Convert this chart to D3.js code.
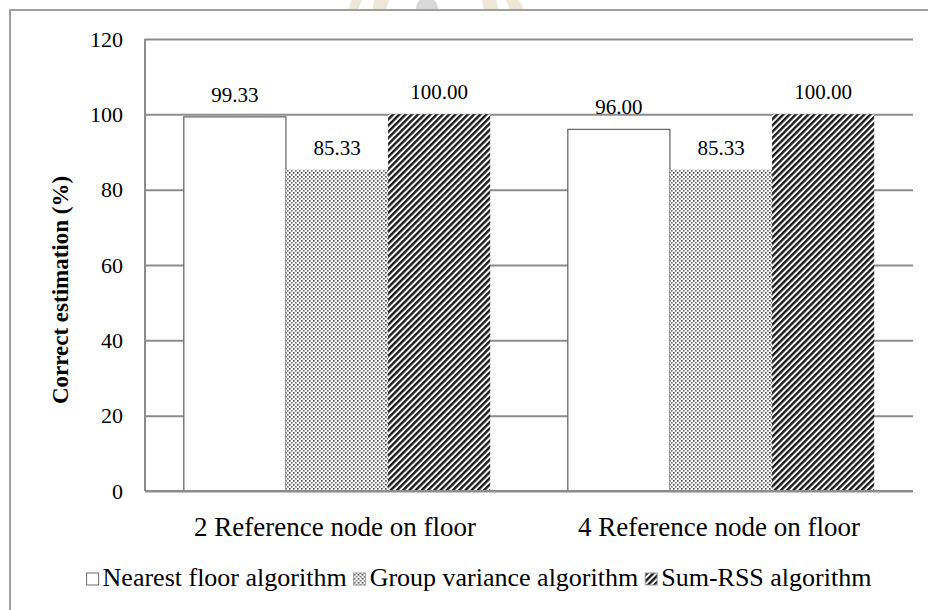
<!DOCTYPE html>
<html lang="en">
<head>
  <meta charset="UTF-8">
  <title>Correct estimation</title>
  <style>
    body { margin: 0; background: #fff; }
    svg { display: block; }
    svg text { font-family: "Liberation Serif", "Times New Roman", serif; fill: #000; }
    .grid line { stroke: #8c8c8c; stroke-width: 2; }
    .grid text { font-size: 22px; }
    .cat { font-size: 27px; }
    .lbl { font-size: 21px; }
    .legend text { font-size: 26px; }
  </style>
</head>
<body>
  <div id="chart"></div>
  <script src="https://d3js.org/d3.v7.min.js"></script>
  <script>
    const categories = ['2 Reference node on floor', '4 Reference node on floor'];
    const series = ['Nearest floor algorithm', 'Group variance algorithm', 'Sum-RSS algorithm'];
    const nearest = [99.33, 96.00];
    const group = [85.33, 85.33];
    const sumRss = [100.00, 100.00];
    const yTicks = [0, 20, 40, 60, 80, 100, 120];

    (function () {
      const width = 928, height = 610;
      const m = { left: 145, right: 15, top: 39, bottom: 119 };
      const values = [nearest, group, sumRss];
      const fills = ['#fff', 'url(#dots)', 'url(#stripes)'];

      const svg = d3.select('#chart').append('svg')
        .attr('width', width).attr('height', height);

      const defs = svg.append('defs');
      const dots = defs.append('pattern').attr('id', 'dots')
        .attr('patternUnits', 'userSpaceOnUse').attr('width', 4).attr('height', 4);
      dots.append('rect').attr('width', 4).attr('height', 4).attr('fill', '#fff');
      dots.append('rect').attr('x', 0).attr('y', 0).attr('width', 1.7).attr('height', 1.7).attr('fill', '#555');
      dots.append('rect').attr('x', 2).attr('y', 2).attr('width', 1.7).attr('height', 1.7).attr('fill', '#777');

      const stripes = defs.append('pattern').attr('id', 'stripes')
        .attr('patternUnits', 'userSpaceOnUse').attr('width', 4.4).attr('height', 4.4)
        .attr('patternTransform', 'rotate(45)');
      stripes.append('rect').attr('width', 4.4).attr('height', 4.4).attr('fill', '#fff');
      stripes.append('rect').attr('width', 2.4).attr('height', 4.4).attr('fill', '#1a1a1a');

      // faint watermark peeking above the frame
      const wm = svg.append('g');
      wm.append('path').attr('d', 'M352,0 L362,0 L358,10 L348,10 Z').attr('fill', '#eee6d6');
      wm.append('path').attr('d', 'M374,0 L389,0 L386,10 L373,10 Z').attr('fill', '#eee6d6');
      wm.append('path').attr('d', 'M416,10 Q416,-2 427,-2 Q438,-2 438,10 Z').attr('fill', '#d8d8d8');
      wm.append('path').attr('d', 'M482,0 L496,0 L499,10 L484,10 Z').attr('fill', '#eee6d6');
      wm.append('path').attr('d', 'M506,0 L519,0 L524,10 L510,10 Z').attr('fill', '#eee6d6');

      // chart area frame (cropped on right and bottom)
      svg.append('rect').attr('x', 10).attr('y', 10).attr('width', 940).attr('height', 620)
        .attr('fill', '#fff').attr('stroke', '#a0a0a0').attr('stroke-width', 2);

      const x0 = d3.scaleBand().domain(categories)
        .range([m.left, width - m.right]);
      const x1 = d3.scaleBand().domain(series)
        .range([0, x0.bandwidth()]).paddingOuter(0.38);
      const y = d3.scaleLinear().domain([0, 120]).range([height - m.bottom, m.top]);

      // gridlines + tick labels
      const gy = svg.append('g').attr('class', 'grid')
        .attr('transform', `translate(${m.left},0)`)
        .call(d3.axisLeft(y).tickValues(yTicks).tickSize(-(width - m.left - m.right)).tickPadding(22));
      gy.attr('font-family', null).attr('font-size', null);
      gy.select('.domain').remove();

      // left axis line
      svg.append('line')
        .attr('x1', m.left).attr('x2', m.left)
        .attr('y1', y(120)).attr('y2', y(0))
        .attr('stroke', '#8c8c8c').attr('stroke-width', 2);

      const rows = categories.map((c, i) => series.map((s, j) => ({ c, s, j, v: values[j][i] })));

      const groups = svg.append('g').selectAll('g').data(rows).join('g')
        .attr('transform', d => `translate(${x0(d[0].c)},0)`);

      groups.selectAll('rect').data(d => d).join('rect')
        .attr('x', d => x1(d.s))
        .attr('y', d => y(d.v))
        .attr('width', x1.bandwidth())
        .attr('height', d => y(0) - y(d.v))
        .attr('fill', d => fills[d.j])
        .attr('stroke', d => d.j === 0 ? '#6b6b6b' : 'none')
        .attr('stroke-width', 1.3);

      groups.selectAll('text').data(d => d).join('text')
        .attr('class', 'lbl')
        .attr('x', d => x1(d.s) + x1.bandwidth() / 2)
        .attr('y', d => y(d.v) - 15)
        .attr('text-anchor', 'middle')
        .text(d => d.v.toFixed(2));

      // baseline
      svg.append('line')
        .attr('x1', m.left).attr('x2', width - m.right)
        .attr('y1', y(0)).attr('y2', y(0))
        .attr('stroke', '#8c8c8c').attr('stroke-width', 2);

      svg.append('g').selectAll('text').data(categories).join('text')
        .attr('class', 'cat')
        .attr('x', d => x0(d) + x0.bandwidth() / 2 - 2)
        .attr('y', y(0) + 45)
        .attr('text-anchor', 'middle')
        .text(d => d);

      svg.append('text')
        .attr('transform', `translate(68,${(y(0) + y(120)) / 2 + 25}) rotate(-90)`)
        .attr('text-anchor', 'middle')
        .attr('font-size', 23).attr('font-weight', 'bold')
        .text('Correct estimation (%)');

      // legend
      const leg = svg.append('g').attr('class', 'legend');
      const items = leg.selectAll('g').data(series).join('g');
      items.append('rect')
        .attr('width', 12).attr('height', 12).attr('y', -13)
        .attr('fill', (d, i) => fills[i])
        .attr('stroke', (d, i) => i === 0 ? '#6b6b6b' : '#999')
        .attr('stroke-width', 1);
      items.append('text').attr('x', 16).attr('y', 0).text(d => d);
      const widths = [];
      items.each(function () { widths.push(this.getBBox().width); });
      const total = d3.sum(widths) + 7 * (widths.length - 1);
      let cx = 479 - total / 2;
      items.attr('transform', (d, i) => {
        const t = `translate(${cx},586)`;
        cx += widths[i] + 7;
        return t;
      });
    })();
  </script>
</body>
</html>
